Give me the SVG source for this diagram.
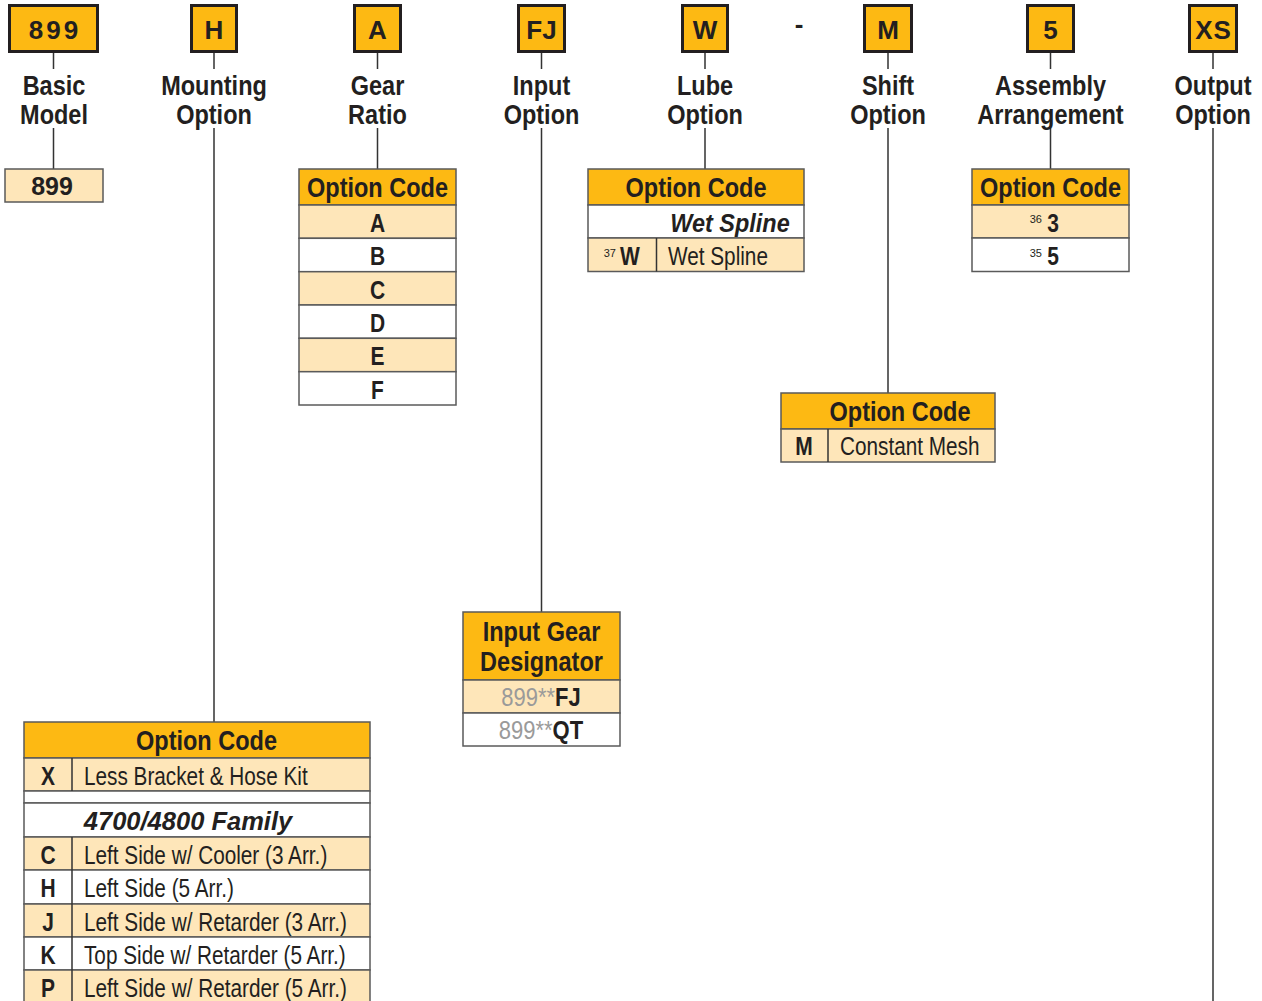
<svg xmlns="http://www.w3.org/2000/svg" width="1262" height="1001" viewBox="0 0 1262 1001">
<style>
text{fill:#231F20;font-family:"Liberation Sans",Arial,sans-serif}
.code{font-weight:bold;font-size:26px;text-anchor:middle}
.lab{font-weight:bold;font-size:28px;text-anchor:middle}
.hdr{font-weight:bold;font-size:28px;text-anchor:middle}
.cb{font-weight:bold;font-size:25px;text-anchor:middle}
.lt{font-size:25px}
.sup{font-size:11px;text-anchor:end}
.gray{fill:#9a9a9a}
.bi{font-weight:bold;font-style:italic;font-size:25.5px;text-anchor:middle}
.top{fill:#FDB913;stroke:#231F20;stroke-width:3}
.o{fill:#FDB913;stroke:#5a5a5a;stroke-width:1.5}
.l{fill:#FEE6B9;stroke:#5a5a5a;stroke-width:1.5}
.w{fill:#ffffff;stroke:#5a5a5a;stroke-width:1.5}
.c{stroke:#333;stroke-width:1.5;fill:none}
.d{stroke:#333;stroke-width:1.5;fill:none}
</style>
<rect width="1262" height="1001" fill="#ffffff"/>
<g id="connectors">
<path class="c" d="M53.5 52V69M53.5 128V169"/>
<path class="c" d="M214 52V69M214 128V722"/>
<path class="c" d="M377.5 52V69M377.5 128V169"/>
<path class="c" d="M541.5 52V69M541.5 128V612"/>
<path class="c" d="M705 52V69M705 128V169"/>
<path class="c" d="M888 52V69M888 128V393"/>
<path class="c" d="M1050.5 52V69M1050.5 128V169"/>
<path class="c" d="M1213 52V69M1213 128V1001"/>
</g>
<g id="basic-model">
<rect class="top" x="9.5" y="5.5" width="88" height="46"/>
<text class="code" x="55" y="38.5" letter-spacing="3">899</text>
<text class="lab" transform="translate(54 95) scale(.84 1)">Basic</text>
<text class="lab" transform="translate(54 124) scale(.84 1)">Model</text>
<rect class="l" x="5" y="169" width="98" height="33"/>
<text class="cb" x="52" y="195">899</text>
</g>
<g id="mounting-option">
<rect class="top" x="191.5" y="5.5" width="45" height="46"/>
<text class="code" x="214" y="39">H</text>
<text class="lab" transform="translate(214 95) scale(.84 1)">Mounting</text>
<text class="lab" transform="translate(214 124) scale(.84 1)">Option</text>
<rect class="o" x="24" y="722" width="346" height="36"/>
<text class="hdr" transform="translate(206.5 750) scale(.84 1)">Option Code</text>
<rect class="l" x="24" y="758" width="346" height="33"/>
<rect class="w" x="24" y="791" width="346" height="12"/>
<rect class="w" x="24" y="803" width="346" height="34"/>
<rect class="l" x="24" y="837" width="346" height="33"/>
<rect class="w" x="24" y="870" width="346" height="34"/>
<rect class="l" x="24" y="904" width="346" height="33"/>
<rect class="w" x="24" y="937" width="346" height="33"/>
<rect class="l" x="24" y="970" width="346" height="33"/>
<path class="d" d="M72 758V791M72 837V1003"/>
<text class="cb" transform="translate(48 785) scale(.84 1)">X</text>
<text class="lt" transform="translate(84 785) scale(.83 1)">Less Bracket &amp; Hose Kit</text>
<text class="bi" x="188" y="830">4700/4800 Family</text>
<text class="cb" transform="translate(48 864) scale(.84 1)">C</text>
<text class="lt" transform="translate(84 864) scale(.83 1)">Left Side w/ Cooler (3 Arr.)</text>
<text class="cb" transform="translate(48 897) scale(.84 1)">H</text>
<text class="lt" transform="translate(84 897) scale(.83 1)">Left Side (5 Arr.)</text>
<text class="cb" transform="translate(48 931) scale(.84 1)">J</text>
<text class="lt" transform="translate(84 931) scale(.83 1)">Left Side w/ Retarder (3 Arr.)</text>
<text class="cb" transform="translate(48 964) scale(.84 1)">K</text>
<text class="lt" transform="translate(84 964) scale(.83 1)">Top Side w/ Retarder (5 Arr.)</text>
<text class="cb" transform="translate(48 997) scale(.84 1)">P</text>
<text class="lt" transform="translate(84 997) scale(.83 1)">Left Side w/ Retarder (5 Arr.)</text>
</g>
<g id="gear-ratio">
<rect class="top" x="354.5" y="5.5" width="46" height="46"/>
<text class="code" x="377.5" y="39">A</text>
<text class="lab" transform="translate(377.5 95) scale(.84 1)">Gear</text>
<text class="lab" transform="translate(377.5 124) scale(.84 1)">Ratio</text>
<rect class="o" x="299" y="169" width="157" height="36"/>
<text class="hdr" transform="translate(377.5 197) scale(.84 1)">Option Code</text>
<rect class="l" x="299" y="205" width="157" height="33.3"/>
<rect class="w" x="299" y="238.3" width="157" height="33.4"/>
<rect class="l" x="299" y="271.7" width="157" height="33.3"/>
<rect class="w" x="299" y="305" width="157" height="33.3"/>
<rect class="l" x="299" y="338.3" width="157" height="33.4"/>
<rect class="w" x="299" y="371.7" width="157" height="33.3"/>
<text class="cb" transform="translate(377.5 231.5) scale(.84 1)">A</text>
<text class="cb" transform="translate(377.5 265) scale(.84 1)">B</text>
<text class="cb" transform="translate(377.5 298.5) scale(.84 1)">C</text>
<text class="cb" transform="translate(377.5 331.5) scale(.84 1)">D</text>
<text class="cb" transform="translate(377.5 365) scale(.84 1)">E</text>
<text class="cb" transform="translate(377.5 398.5) scale(.84 1)">F</text>
</g>
<g id="input-option">
<rect class="top" x="518.5" y="5.5" width="46" height="46"/>
<text class="code" x="541.5" y="39">FJ</text>
<text class="lab" transform="translate(541.5 95) scale(.84 1)">Input</text>
<text class="lab" transform="translate(541.5 124) scale(.84 1)">Option</text>
<rect class="o" x="463" y="612" width="157" height="68"/>
<text class="hdr" transform="translate(541.5 641) scale(.84 1)">Input Gear</text>
<text class="hdr" transform="translate(541.5 671) scale(.84 1)">Designator</text>
<rect class="l" x="463" y="680" width="157" height="33"/>
<rect class="w" x="463" y="713" width="157" height="33"/>
<text transform="translate(541 706) scale(.88 1)" style="font-size:25px;text-anchor:middle"><tspan class="gray">899**</tspan><tspan font-weight="bold">FJ</tspan></text>
<text transform="translate(541 739) scale(.88 1)" style="font-size:25px;text-anchor:middle"><tspan class="gray">899**</tspan><tspan font-weight="bold">QT</tspan></text>
</g>
<g id="lube-option">
<rect class="top" x="682.5" y="5.5" width="45" height="46"/>
<text class="code" x="705" y="39">W</text>
<text class="lab" transform="translate(705 95) scale(.84 1)">Lube</text>
<text class="lab" transform="translate(705 124) scale(.84 1)">Option</text>
<rect class="o" x="588" y="169" width="216" height="36"/>
<text class="hdr" transform="translate(696 197) scale(.84 1)">Option Code</text>
<rect class="w" x="588" y="205" width="216" height="33"/>
<text class="bi" transform="translate(730 231.5) scale(.92 1)">Wet Spline</text>
<rect class="l" x="588" y="238" width="216" height="33.5"/>
<path class="d" d="M656.5 238V271.5"/>
<text class="sup" x="616" y="257">37</text>
<text class="cb" transform="translate(630 265) scale(.84 1)">W</text>
<text class="lt" transform="translate(668 265) scale(.83 1)">Wet Spline</text>
</g>
<text id="dash" x="799" y="33" style="font-weight:bold;font-size:26px;text-anchor:middle">-</text>
<g id="shift-option">
<rect class="top" x="864.5" y="5.5" width="47" height="46"/>
<text class="code" x="888" y="39">M</text>
<text class="lab" transform="translate(888 95) scale(.84 1)">Shift</text>
<text class="lab" transform="translate(888 124) scale(.84 1)">Option</text>
<rect class="o" x="781" y="393" width="214" height="36"/>
<text class="hdr" transform="translate(900 421) scale(.84 1)">Option Code</text>
<rect class="l" x="781" y="429" width="214" height="33"/>
<path class="d" d="M828 429V462"/>
<text class="cb" transform="translate(804 455) scale(.84 1)">M</text>
<text class="lt" transform="translate(840 455) scale(.83 1)">Constant Mesh</text>
</g>
<g id="assembly-arrangement">
<rect class="top" x="1027.5" y="5.5" width="46" height="46"/>
<text class="code" x="1050.5" y="39">5</text>
<text class="lab" transform="translate(1050.5 95) scale(.84 1)">Assembly</text>
<text class="lab" transform="translate(1050.5 124) scale(.84 1)">Arrangement</text>
<rect class="o" x="972" y="169" width="157" height="36"/>
<text class="hdr" transform="translate(1050.5 197) scale(.84 1)">Option Code</text>
<rect class="l" x="972" y="205" width="157" height="33"/>
<rect class="w" x="972" y="238" width="157" height="33.5"/>
<text class="sup" x="1042" y="223">36</text>
<text class="cb" transform="translate(1053 232) scale(.84 1)">3</text>
<text class="sup" x="1042" y="257">35</text>
<text class="cb" transform="translate(1053 265) scale(.84 1)">5</text>
</g>
<g id="output-option">
<rect class="top" x="1189.5" y="5.5" width="47" height="46"/>
<text class="code" x="1213.5" y="39" letter-spacing="1">XS</text>
<text class="lab" transform="translate(1213 95) scale(.84 1)">Output</text>
<text class="lab" transform="translate(1213 124) scale(.84 1)">Option</text>
</g>
</svg>
